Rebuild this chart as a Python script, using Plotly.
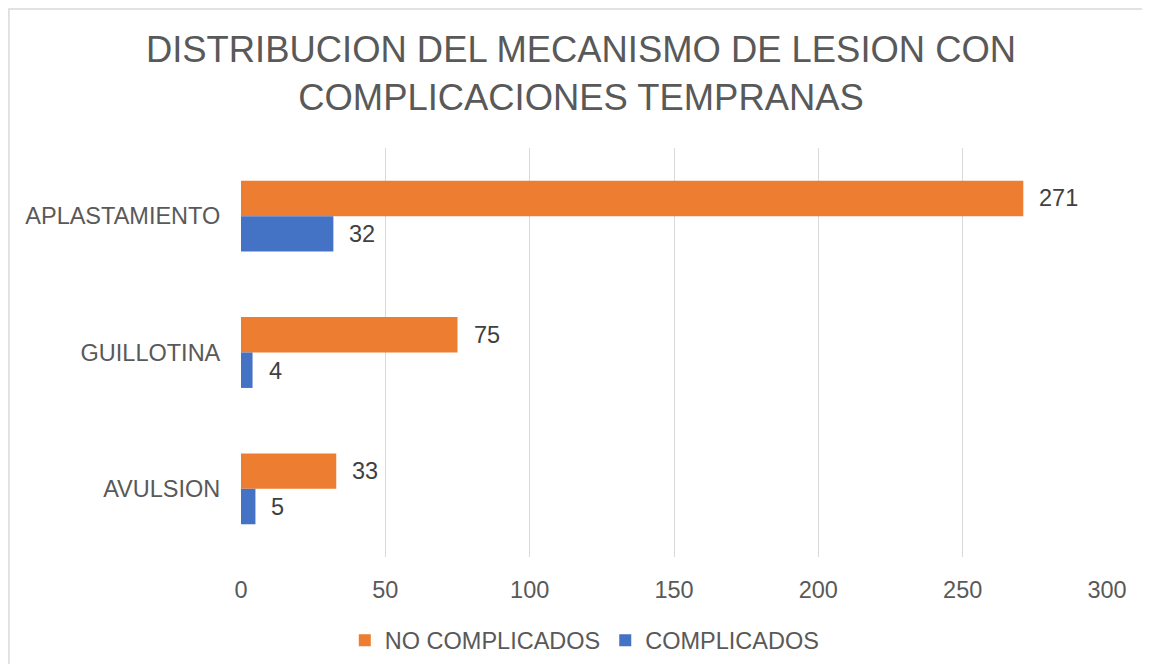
import plotly.graph_objects as go

categories = ["APLASTAMIENTO", "GUILLOTINA", "AVULSION"]
no_complicados = [271, 75, 33]
complicados = [32, 4, 5]
x_ticks = [0, 50, 100, 150, 200, 250, 300]

ORANGE = "#ED7D31"
BLUE = "#4472C4"
TXT = "#595959"
FONT = "Liberation Sans, Arial, Helvetica, sans-serif"
FS = 23.5

fig = go.Figure()
fig.add_trace(go.Bar(name="NO COMPLICADOS", y=categories, x=no_complicados,
                     orientation="h", marker=dict(color=ORANGE, line=dict(width=0))))
fig.add_trace(go.Bar(name="COMPLICADOS", y=categories, x=complicados,
                     orientation="h", marker=dict(color=BLUE, line=dict(width=0))))

annotations = []
for cat, v in zip(categories, no_complicados):
    annotations.append(dict(x=v, y=cat, xref="x", yref="y", text=str(v), showarrow=False,
                            xanchor="left", yanchor="middle", xshift=14, yshift=18,
                            font=dict(family=FONT, size=FS, color="#404040")))
for cat, v in zip(categories, complicados):
    annotations.append(dict(x=v, y=cat, xref="x", yref="y", text=str(v), showarrow=False,
                            xanchor="left", yanchor="middle", xshift=14, yshift=-18,
                            font=dict(family=FONT, size=FS, color="#404040")))

fig.update_layout(
    width=1134, height=656,
    margin=dict(l=233, r=35, t=140, b=107, autoexpand=False),
    paper_bgcolor="white", plot_bgcolor="white",
    barmode="group", bargap=0.48, bargroupgap=0,
    font=dict(family=FONT, size=FS, color=TXT),
    title=dict(text="DISTRIBUCION DEL MECANISMO DE LESION CON<br>COMPLICACIONES TEMPRANAS",
               x=0.5053, xanchor="center", xref="container",
               y=0.917, yanchor="top", yref="container",
               font=dict(family=FONT, size=36.4, color=TXT)),
    xaxis=dict(range=[0, 300], tickvals=x_ticks, showgrid=True, gridcolor="#D9D9D9",
               gridwidth=1, zeroline=False, showline=False, ticks="outside",
               ticklen=12, tickcolor="rgba(0,0,0,0)",
               tickfont=dict(family=FONT, size=FS, color=TXT), fixedrange=True),
    yaxis=dict(autorange="reversed", showgrid=False, zeroline=False, showline=False,
               ticks="outside", ticklen=15, tickcolor="rgba(0,0,0,0)",
               tickfont=dict(family=FONT, size=FS, color=TXT)),
    legend=dict(orientation="h", x=0.397, xanchor="center", y=-0.15, yanchor="top",
                font=dict(family=FONT, size=FS, color=TXT), traceorder="normal"),
    annotations=annotations,
    shapes=[dict(type="rect", xref="paper", yref="paper",
                 x0=-0.268, x1=1.08, y0=-0.35, y1=1.34,
                 line=dict(color="#D9D9D9", width=1.5), layer="below")],
)

fig.write_html("out.html")
